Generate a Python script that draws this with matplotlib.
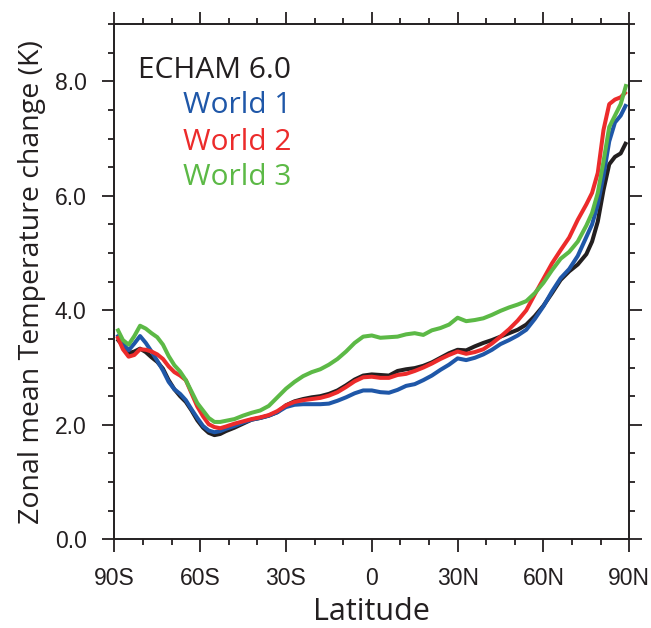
import matplotlib
matplotlib.use("Agg")
import matplotlib.pyplot as plt
from matplotlib.ticker import MultipleLocator, FixedLocator

plt.rcParams["font.family"] = ["Liberation Sans", "DejaVu Sans"]

lat = [-89, -87, -85, -83, -81, -79, -77, -75, -73, -71, -69, -67, -65, -63, -61,
       -59, -57, -55, -53, -51, -48, -45, -42, -39, -36, -33, -30, -27, -24, -21,
       -18, -15, -12, -9, -6, -3, 0, 3, 6, 9, 12, 15, 18, 21, 24, 27, 30, 33, 36,
       39, 42, 45, 48, 51, 54, 57, 60, 63, 66, 69, 72, 75, 77, 79, 81, 83, 85, 87, 89]

echam = [3.50, 3.38, 3.25, 3.28, 3.33, 3.27, 3.18, 3.10, 2.98, 2.78, 2.62, 2.50, 2.40,
         2.25, 2.08, 1.95, 1.86, 1.82, 1.84, 1.89, 1.95, 2.02, 2.09, 2.12, 2.16, 2.22,
         2.34, 2.41, 2.45, 2.48, 2.50, 2.54, 2.60, 2.69, 2.79, 2.86, 2.88, 2.87, 2.86,
         2.94, 2.97, 2.99, 3.03, 3.09, 3.17, 3.25, 3.31, 3.30, 3.37, 3.43, 3.48, 3.54,
         3.60, 3.66, 3.75, 3.90, 4.08, 4.30, 4.53, 4.68, 4.80, 4.98, 5.20, 5.55, 6.10,
         6.55, 6.68, 6.74, 6.94]

world1 = [3.58, 3.42, 3.30, 3.42, 3.55, 3.43, 3.28, 3.12, 2.95, 2.75, 2.62, 2.54, 2.43,
          2.27, 2.12, 1.98, 1.90, 1.87, 1.89, 1.93, 1.98, 2.04, 2.09, 2.12, 2.16, 2.22,
          2.31, 2.35, 2.36, 2.36, 2.36, 2.37, 2.42, 2.48, 2.55, 2.60, 2.60, 2.57, 2.56,
          2.61, 2.68, 2.71, 2.78, 2.86, 2.96, 3.05, 3.16, 3.13, 3.17, 3.23, 3.31, 3.41,
          3.48, 3.56, 3.66, 3.85, 4.07, 4.33, 4.56, 4.72, 4.95, 5.28, 5.50, 5.85, 6.35,
          6.95, 7.28, 7.40, 7.60]

world2 = [3.55, 3.32, 3.19, 3.22, 3.32, 3.31, 3.28, 3.23, 3.15, 3.02, 2.92, 2.86, 2.78,
          2.55, 2.32, 2.15, 2.01, 1.96, 1.94, 1.97, 2.02, 2.06, 2.10, 2.13, 2.17, 2.24,
          2.34, 2.40, 2.43, 2.45, 2.47, 2.51, 2.57, 2.66, 2.76, 2.83, 2.84, 2.82, 2.82,
          2.87, 2.89, 2.94, 3.00, 3.07, 3.15, 3.22, 3.28, 3.24, 3.27, 3.32, 3.42, 3.54,
          3.67, 3.82, 4.00, 4.28, 4.55, 4.82, 5.05, 5.27, 5.58, 5.85, 6.05, 6.40, 7.15,
          7.60, 7.68, 7.72, 7.82]

world3 = [3.68, 3.48, 3.40, 3.55, 3.73, 3.68, 3.60, 3.53, 3.40, 3.20, 3.04, 2.93, 2.78,
          2.58, 2.38, 2.25, 2.12, 2.05, 2.05, 2.07, 2.10, 2.16, 2.21, 2.25, 2.33, 2.48,
          2.63, 2.75, 2.85, 2.92, 2.97, 3.05, 3.15, 3.28, 3.43, 3.54, 3.56, 3.52, 3.53,
          3.54, 3.58, 3.60, 3.57, 3.65, 3.69, 3.75, 3.87, 3.81, 3.83, 3.86, 3.92, 3.99,
          4.05, 4.10, 4.16, 4.30, 4.48, 4.70, 4.90, 5.02, 5.20, 5.48, 5.70, 6.05, 6.60,
          7.20, 7.40, 7.60, 7.95]

series_names = ["ECHAM 6.0", "World 1", "World 2", "World 3"]
series_colors = ["#231f20", "#1f57a8", "#ec2b2b", "#5cb946"]
xtick_pos = [-90, -60, -30, 0, 30, 60, 90]
xtick_labels = ["90S", "60S", "30S", "0", "30N", "60N", "90N"]
ytick_pos = [0, 2, 4, 6, 8]
ytick_labels = ["0.0", "2.0", "4.0", "6.0", "8.0"]

fig = plt.figure(figsize=(6.51, 6.28), dpi=100)
ax = fig.add_axes([0.1756, 0.1412, 0.791, 0.8206])

for vals, c in zip([echam, world1, world2, world3], series_colors):
    ax.plot(lat, vals, color=c, lw=2.9, solid_joinstyle="round", solid_capstyle="butt")

ax.set_xlim(-90, 90)
ax.set_ylim(0, 9)
ax.xaxis.set_major_locator(FixedLocator(xtick_pos))
ax.set_xticklabels(xtick_labels)
ax.xaxis.set_minor_locator(MultipleLocator(10))
ax.yaxis.set_major_locator(FixedLocator(ytick_pos))
ax.set_yticklabels(ytick_labels)
ax.yaxis.set_minor_locator(MultipleLocator(0.5))

for sp in ax.spines.values():
    sp.set_linewidth(1.4)
    sp.set_color("#231f20")
ax.tick_params(which="both", direction="out", top=True, right=True, width=1.3,
               color="#231f20", labelcolor="#231f20")
ax.tick_params(which="major", length=9, labelsize=16.5, pad=11)
ax.tick_params(which="minor", length=4.5)

ax.set_xlabel("Latitude", fontsize=22, family="Open Sans", labelpad=5, color="#231f20")
ax.set_ylabel("Zonal mean Temperature change (K)", fontsize=20.5, family="Open Sans",
              labelpad=6, color="#231f20")

for name, c, yy in zip(series_names, series_colors, [8.065, 7.446, 6.807, 6.183]):
    ax.text(-28.2, yy, name, color=c, fontsize=21.5, family="Open Sans",
            ha="right", va="baseline")

fig.savefig("out.png", dpi=100)
